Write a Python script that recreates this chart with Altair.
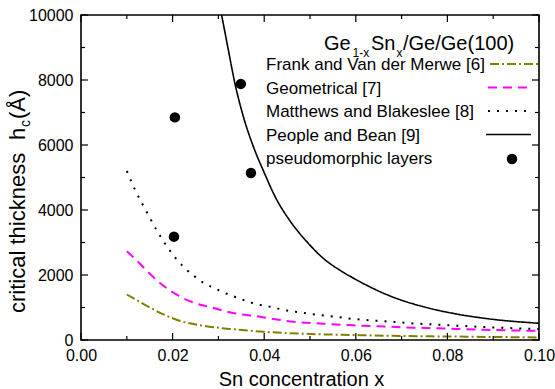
import altair as alt
import pandas as pd

# ---- curve data: critical thickness h_c (Angstrom) vs Sn fraction x ----
frank_x = [0.0100, 0.0134, 0.0175, 0.0215, 0.0267, 0.0333, 0.0398, 0.0500, 0.0595, 0.0680, 0.0842, 0.1000]
frank_y = [1400, 1129, 821, 594, 440, 329, 255, 185, 154, 128, 102, 80]

geom_x = [0.0100, 0.0117, 0.0142, 0.0178, 0.0210, 0.0250, 0.0284, 0.0329, 0.0391, 0.0420,
          0.0464, 0.0529, 0.0595, 0.0668, 0.0733, 0.0806, 0.0879, 0.0974, 0.1000]
geom_y = [2730, 2513, 2154, 1692, 1385, 1129, 1006, 840, 717, 646,
          563, 502, 452, 409, 378, 348, 317, 286, 280]

mb_x = [0.0100, 0.0120, 0.0142, 0.0165, 0.0192, 0.0207, 0.0226, 0.0247, 0.0267, 0.0289,
        0.0309, 0.0331, 0.0351, 0.0372, 0.0392, 0.0413, 0.0434, 0.0455, 0.0476, 0.0497,
        0.0519, 0.0539, 0.0561, 0.0582, 0.0603, 0.0643, 0.0685, 0.0725, 0.0768, 0.0809,
        0.0850, 0.0893, 0.0934, 0.0976, 0.1000]
mb_y = [5200, 4563, 3978, 3385, 2790, 2513, 2225, 1969, 1763, 1609,
        1477, 1354, 1252, 1148, 1077, 1025, 954, 892, 852, 809,
        769, 738, 708, 668, 637, 594, 555, 510, 480, 450,
        420, 392, 368, 345, 333]

pb_x = [0.0307, 0.0320, 0.0336, 0.0355, 0.0375, 0.0400, 0.0425, 0.0456, 0.0493, 0.0529,
        0.0565, 0.0602, 0.0675, 0.0747, 0.0820, 0.0893, 0.1000]
pb_y = [10000, 9050, 7900, 6850, 6000, 5150, 4380, 3671, 3026, 2513,
        2150, 1846, 1354, 1025, 800, 646, 515]

# measured pseudomorphic layers
meas_x = [0.0205, 0.0203, 0.0349, 0.0371]
meas_y = [6850, 3180, 7880, 5140]

# axis ticks
x_major = [0.00, 0.02, 0.04, 0.06, 0.08, 0.10]
x_minor = [0.01, 0.03, 0.05, 0.07, 0.09]
y_major = [0, 2000, 4000, 6000, 8000, 10000]
y_minor = [1000, 3000, 5000, 7000, 9000]

# legend entries
series_names = ["Frank and Van der Merwe [6]", "Geometrical [7]",
                "Matthews and Blakeslee [8]", "People and Bean [9]",
                "pseudomorphic layers"]
series_colors = ["#808000", "#ff00ff", "black", "black", "black"]
series_dash = [[9, 3, 2, 3], [9, 6], [2, 7], [1, 0], None]
series_width = [2, 2, 2, 1.6, 0]

W, H = 458, 325
FONT = "Liberation Sans"
xs = alt.Scale(domain=[0, 0.1], nice=False, zero=False)
ys = alt.Scale(domain=[0, 10000], nice=False)

# one shared axis definition per direction (labels only; ticks drawn inward below)
x_axis = alt.Axis(values=x_major, format=".2f", title=None, labelFlush=False,
                  labelPadding=7, ticks=False, domain=False, grid=False)
y_axis = alt.Axis(values=y_major, format="d", title=None, labelFlush=False,
                  labelPadding=8, ticks=False, domain=False, grid=False)


def X(field):
    return alt.X(field, scale=xs, axis=x_axis)


def Y(field):
    return alt.Y(field, scale=ys, axis=y_axis)


def curve(xv, yv, color, dash, width):
    df = pd.DataFrame({"x": xv, "y": yv})
    return alt.Chart(df).mark_line(
        color=color, strokeDash=dash, strokeWidth=width,
        interpolate="monotone", clip=True
    ).encode(x=X("x:Q"), y=Y("y:Q"))


def one():
    return pd.DataFrame({"k": [0]})


def label(text, x, y, size, align="left", baseline="alphabetic", angle=0):
    return alt.Chart(pd.DataFrame({"t": [text]})).mark_text(
        font=FONT, fontSize=size, align=align, baseline=baseline,
        angle=angle, color="black"
    ).encode(text="t:N", x=alt.value(x), y=alt.value(y))


def xticks(vals, length):
    df = pd.DataFrame({"v": vals})
    base = alt.Chart(df).mark_rule(color="black", strokeWidth=1.2)
    return (base.encode(x=X("v:Q"), y=alt.value(H), y2=alt.value(H - length))
            + base.encode(x=X("v:Q"), y=alt.value(0), y2=alt.value(length)))


def yticks(vals, length):
    df = pd.DataFrame({"v": vals})
    base = alt.Chart(df).mark_rule(color="black", strokeWidth=1.2)
    return (base.encode(y=Y("v:Q"), x=alt.value(0), x2=alt.value(length))
            + base.encode(y=Y("v:Q"), x=alt.value(W), x2=alt.value(W - length)))


lines = [
    curve(frank_x, frank_y, series_colors[0], series_dash[0], series_width[0]),
    curve(geom_x, geom_y, series_colors[1], series_dash[1], series_width[1]),
    curve(mb_x, mb_y, series_colors[2], series_dash[2], series_width[2]),
    curve(pb_x, pb_y, series_colors[3], series_dash[3], series_width[3]),
]

points = alt.Chart(pd.DataFrame({"x": meas_x, "y": meas_y})).mark_circle(
    size=110, color="black", opacity=1
).encode(x=X("x:Q"), y=Y("y:Q"))

# legend block
legend = [
    label("Ge", 243, 35, 20),
    label("1-x", 271.5, 41.5, 12),
    label("Sn", 290, 35, 20),
    label("x", 315.5, 41.5, 12),
    label("/Ge/Ge(100)", 322, 35, 20),
]
row_y = [50, 73.5, 97, 120.5, 144]
sample_x = [(409, 458), (407, 449), (407, 449), (405, 450)]
for i, name in enumerate(series_names):
    legend.append(label(name, 185, row_y[i], 17, baseline="middle"))
    if series_dash[i] is not None:
        legend.append(alt.Chart(one()).mark_rule(
            color=series_colors[i], strokeDash=series_dash[i], strokeWidth=series_width[i]
        ).encode(x=alt.value(sample_x[i][0]), x2=alt.value(sample_x[i][1]), y=alt.value(row_y[i] - 1)))
    else:
        legend.append(alt.Chart(one()).mark_circle(size=110, color="black", opacity=1).encode(
            x=alt.value(431), y=alt.value(row_y[i])))

# axis titles
titles = [
    label("Sn concentration x", 220.5, 371, 20, align="center"),
    label("critical thickness", -56, 298, 22, angle=270),
    label("h", -56, 125, 22, angle=270),
    label("c", -51, 112, 14, angle=270),
    label("(Å)", -56, 104, 22, angle=270),
]

chart = alt.layer(
    *lines, points,
    xticks(x_major, 7), xticks(x_minor, 4),
    yticks(y_major, 7), yticks(y_minor, 4),
    *legend, *titles,
).properties(
    width=W, height=H,
    autosize=alt.AutoSizeParams(type="none"),
    padding={"left": 81, "top": 15, "right": 16, "bottom": 49},
    background="white",
).configure_view(
    stroke="black", strokeWidth=1.6
).configure_axis(
    labelFont=FONT, labelFontSize=16, labelColor="black"
)

chart.save("out.html", embed_options={"renderer": "svg", "actions": False})
